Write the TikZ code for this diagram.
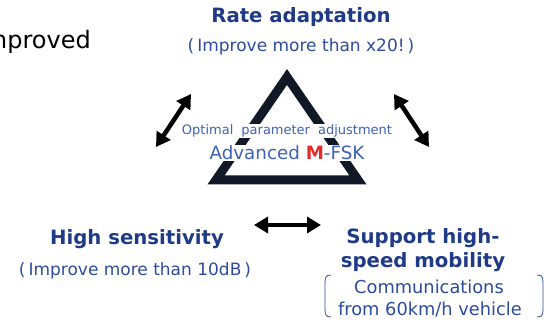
\documentclass[tikz,border=0pt]{standalone}
\usepackage{fontspec}
\setmainfont{DejaVu Sans}
\usetikzlibrary{arrows.meta}
\definecolor{navy}{HTML}{1F3A86}
\definecolor{midblue}{HTML}{2D4B9C}
\definecolor{lightblue}{HTML}{3D62B8}
\definecolor{tricol}{HTML}{111826}
\definecolor{mred}{HTML}{E52A2A}

\begin{document}
\begin{tikzpicture}[x=1pt, y=-1pt, every node/.style={inner sep=0pt}, title/.style={font=\fontsize{19.7}{23}\selectfont\bfseries, text=navy}, note/.style={font=\fontsize{17}{20}\selectfont, text=midblue}, dbl/.style={{Triangle[length=14pt,width=16pt]}-{Triangle[length=14pt,width=16pt]}, line width=4.5pt, black}]
				\useasboundingbox (0,0) rectangle (555,323);
				\clip (0,0) rectangle (555,323);
				
				\node[anchor=east, font=\fontsize{24}{28}\selectfont] (prev) at (91,42) {Improved};
				
				\draw[tricol, line width=9pt, line join=miter] (287,77) -- (358,180) -- (216,180) -- cycle;
				
				\node[title] (rate) at (301,17) {Rate adaptation};
				\node[note] (rategain) at (301,47) {(\hspace{3pt}Improve more than x20!\hspace{3pt})};
				
				\node[fill=white, inner sep=1pt, text=lightblue, font=\fontsize{13}{15}\selectfont] (opt) at (287,131) {Optimal\hspace{8pt}parameter\hspace{8pt}adjustment};
				\node[fill=white, inner sep=1pt, text=lightblue, font=\fontsize{18.3}{21}\selectfont] (fsk) at (287,153) {Advanced {\bfseries\color{mred}M}-FSK};
				
				\node[title] (sens) at (137,239) {High sensitivity};
				\node[note] (sensgain) at (135,271) {(\hspace{3pt}Improve more than 10dB\hspace{3pt})};
				
				\node[title] (mob1) at (423,238) {Support high-};
				\node[title] (mob2) at (423,262) {speed mobility};
				\node[note, font=\fontsize{17.8}{21}\selectfont] (veh1) at (429,287) {Communications};
				\node[note, font=\fontsize{17.8}{21}\selectfont] (veh2) at (430,310) {from 60km/h vehicle};
				
				\draw[midblue, line width=0.8pt] (331,275) .. controls (326,275) and (325,277) .. (325,283) -- (325,309) .. controls (325,315) and (326,317) .. (331,317);
				\draw[midblue, line width=0.8pt] (537,275) .. controls (542,275) and (543,277) .. (543,283) -- (543,309) .. controls (543,315) and (542,317) .. (537,317);
				
				\coordinate (la) at (156,147);
				\coordinate (lb) at (191,94);
				\coordinate (ra) at (394,94);
				\coordinate (rb) at (429,147);
				\coordinate (ba) at (254,225);
				\coordinate (bb) at (321,225);
				
				\draw[dbl] (la) -- (lb);
				\draw[dbl] (ra) -- (rb);
				\draw[dbl] (ba) -- (bb);
				\end{tikzpicture}
\end{document}
